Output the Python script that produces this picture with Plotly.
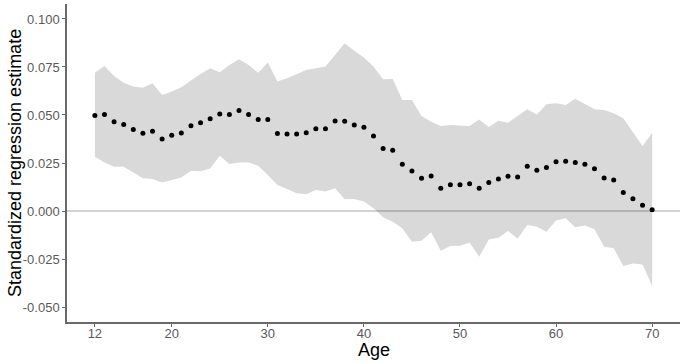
import plotly.graph_objects as go

ages = list(range(12, 71))
estimate = [0.0498, 0.0502, 0.0465, 0.0450, 0.0425, 0.0405, 0.0415, 0.0375, 0.0394, 0.0406,
            0.0444, 0.0460, 0.0481, 0.0505, 0.0503, 0.0523, 0.0503, 0.0477, 0.0477, 0.0403,
            0.0401, 0.0401, 0.0408, 0.0429, 0.0429, 0.0469, 0.0467, 0.0448, 0.0436, 0.0391,
            0.0325, 0.0316, 0.0243, 0.0208, 0.0170, 0.0182, 0.0118, 0.0137, 0.0137, 0.0142,
            0.0118, 0.0148, 0.0167, 0.0181, 0.0177, 0.0233, 0.0212, 0.0226, 0.0257, 0.0259,
            0.0252, 0.0243, 0.0220, 0.0172, 0.0161, 0.0097, 0.0064, 0.0030, 0.0007]
upper = [0.0720, 0.0755, 0.0703, 0.0668, 0.0648, 0.0642, 0.0665, 0.0604, 0.0622, 0.0644,
         0.0679, 0.0714, 0.0743, 0.0722, 0.0760, 0.0790, 0.0760, 0.0720, 0.0774, 0.0674,
         0.0691, 0.0714, 0.0734, 0.0743, 0.0752, 0.0813, 0.0873, 0.0835, 0.0800, 0.0752,
         0.0686, 0.0688, 0.0578, 0.0578, 0.0495, 0.0465, 0.0443, 0.0448, 0.0446, 0.0443,
         0.0477, 0.0438, 0.0470, 0.0460, 0.0495, 0.0530, 0.0502, 0.0556, 0.0561, 0.0552,
         0.0585, 0.0557, 0.0530, 0.0526, 0.0509, 0.0483, 0.0408, 0.0339, 0.0408]
lower = [0.0283, 0.0252, 0.0231, 0.0231, 0.0200, 0.0170, 0.0167, 0.0148, 0.0161, 0.0174,
         0.0208, 0.0207, 0.0222, 0.0288, 0.0245, 0.0252, 0.0252, 0.0236, 0.0188, 0.0135,
         0.0115, 0.0092, 0.0087, 0.0109, 0.0101, 0.0118, 0.0061, 0.0062, 0.0049, 0.0014,
         -0.0033, -0.0056, -0.0090, -0.0160, -0.0155, -0.0111, -0.0207, -0.0182, -0.0181, -0.0165,
         -0.0238, -0.0148, -0.0139, -0.0104, -0.0144, -0.0073, -0.0082, -0.0108, -0.0050, -0.0038,
         -0.0085, -0.0076, -0.0095, -0.0186, -0.0194, -0.0286, -0.0273, -0.0278, -0.0391]

x_ticks = [12, 20, 30, 40, 50, 60, 70]
y_ticks = [-0.050, -0.025, 0.000, 0.025, 0.050, 0.075, 0.100]
y_tick_labels = ["-0.050", "-0.025", "0.000", "0.025", "0.050", "0.075", "0.100"]

x_title = "Age"
y_title = "Standardized regression estimate"

fig = go.Figure()
fig.add_trace(go.Scatter(x=ages, y=lower, mode="lines", line=dict(width=0),
                         showlegend=False, hoverinfo="skip"))
fig.add_trace(go.Scatter(x=ages, y=upper, mode="lines", line=dict(width=0),
                         fill="tonexty", fillcolor="rgba(0,0,0,0.15)",
                         showlegend=False, hoverinfo="skip"))
fig.add_trace(go.Scatter(x=ages, y=estimate, mode="markers",
                         marker=dict(color="black", size=5), showlegend=False))
fig.add_hline(y=0, line=dict(color="#a8a8a8", width=1.2), layer="below")

axis_common = dict(showgrid=False, zeroline=False, showline=True, linecolor="#6a6a6a",
                   linewidth=1.5, ticks="outside", ticklen=3, tickcolor="#6a6a6a",
                   tickwidth=1, automargin=False,
                   tickfont=dict(family="Liberation Sans, Arial", size=13, color="#5a5a5a"))

fig.update_layout(
    width=685, height=363,
    margin=dict(l=67, r=5, t=4, b=41),
    paper_bgcolor="white", plot_bgcolor="white",
    font=dict(family="Liberation Sans, Arial", color="black"),
    xaxis=dict(range=[9.1, 72.9], tickvals=x_ticks, ticklabelstandoff=-4, **axis_common),
    yaxis=dict(range=[-0.0578, 0.1078], tickvals=y_ticks, ticktext=y_tick_labels, **axis_common),
    annotations=[
        dict(text=x_title, xref="paper", yref="paper", x=0.5, y=0, xanchor="center",
             yanchor="middle", yshift=-28, showarrow=False, font=dict(size=18, color="black")),
        dict(text=y_title, xref="paper", yref="paper", x=0, y=0.5, xanchor="center",
             yanchor="middle", xshift=-52, textangle=-90, showarrow=False,
             font=dict(size=18, color="black")),
    ],
)

fig.write_html("out.html", config={"displayModeBar": False},
               post_script="document.body.style.margin='0';document.body.style.overflow='hidden';")
